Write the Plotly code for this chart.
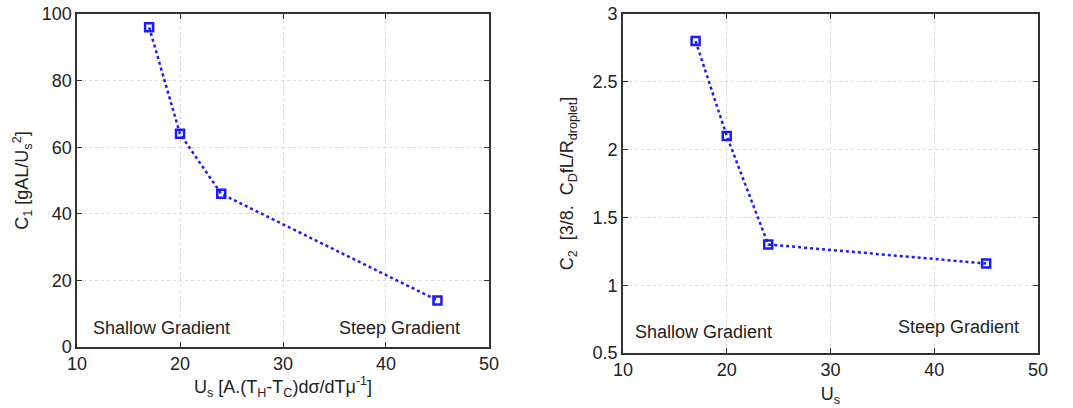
import plotly.graph_objects as go
from plotly.subplots import make_subplots

# data
us = [17, 20, 24, 45]
c1 = [96, 64, 46, 14]
c2 = [2.8, 2.1, 1.3, 1.16]

x_ticks = [10, 20, 30, 40, 50]
c1_ticks = [0, 20, 40, 60, 80, 100]
c2_ticks = [0.5, 1, 1.5, 2, 2.5, 3]
c2_tick_text = ["0.5", "1", "1.5", "2", "2.5", "3"]

font = dict(family="Liberation Sans, Arial, sans-serif", size=18, color="#222")

fig = make_subplots(rows=1, cols=2)

line_style = dict(color="#1a1aff", width=2.5, dash="dot")
marker_style = dict(symbol="square-open", size=8, color="#1a1aff",
                    line=dict(width=2.5, color="#1a1aff"))

fig.add_trace(go.Scatter(x=us, y=c1, mode="lines+markers", line=line_style,
                         marker=marker_style, showlegend=False), row=1, col=1)
fig.add_trace(go.Scatter(x=us, y=c2, mode="lines+markers", line=line_style,
                         marker=marker_style, showlegend=False), row=1, col=2)

axis_common = dict(showline=True, linecolor="#333", linewidth=1.5, mirror="ticks",
                   ticks="inside", ticklen=5, tickcolor="#333",
                   showgrid=True, gridcolor="#d9d9d9", griddash="dot",
                   zeroline=False, tickfont=font, automargin=False)

fig.update_xaxes(axis_common, range=[10, 50], tickvals=x_ticks)
fig.update_xaxes(domain=[0.0718, 0.4557], row=1, col=1,
                 title=dict(text="U<sub>s</sub> [A.(T<sub>H</sub>-T<sub>C</sub>)dσ/dTμ<sup>-1</sup>]",
                            font=font, standoff=6))
fig.update_xaxes(domain=[0.5806, 0.9674], row=1, col=2,
                 title=dict(text="U<sub>s</sub>", font=font, standoff=8))

fig.update_yaxes(axis_common)
fig.update_yaxes(domain=[0.1495, 0.9657], range=[0, 100], tickvals=c1_ticks, row=1, col=1,
                 title=dict(text="C<sub>1</sub> [gAL/U<sub>s</sub><sup>2</sup>]", font=font, standoff=8))
fig.update_yaxes(domain=[0.1348, 0.9657], range=[0.5, 3], tickvals=c2_ticks,
                 ticktext=c2_tick_text, row=1, col=2,
                 title=dict(text="C<sub>2</sub>  [3/8.  C<sub>D</sub>fL/R<sub>droplet</sub>]",
                            font=font, standoff=14))

notes = [
    ("x", "y", 11.4, 5.7, "Shallow Gradient", "left"),
    ("x", "y", 47.4, 5.7, "Steep Gradient", "right"),
    ("x2", "y2", 11.0, 0.655, "Shallow Gradient", "left"),
    ("x2", "y2", 48.4, 0.69, "Steep Gradient", "right"),
]
for xr, yr, xv, yv, txt, anchor in notes:
    fig.add_annotation(x=xv, y=yv, xref=xr, yref=yr, text=txt, showarrow=False,
                       xanchor=anchor, yanchor="middle", font=font)

fig.update_layout(width=1073, height=408, margin=dict(l=0, r=0, t=0, b=0),
                  plot_bgcolor="white", paper_bgcolor="white", font=font)

# drop the default page margin so the figure sits at the window's corner
fig.write_html("out.html", config={"displayModeBar": False},
               post_script="document.body.style.margin='0';")
